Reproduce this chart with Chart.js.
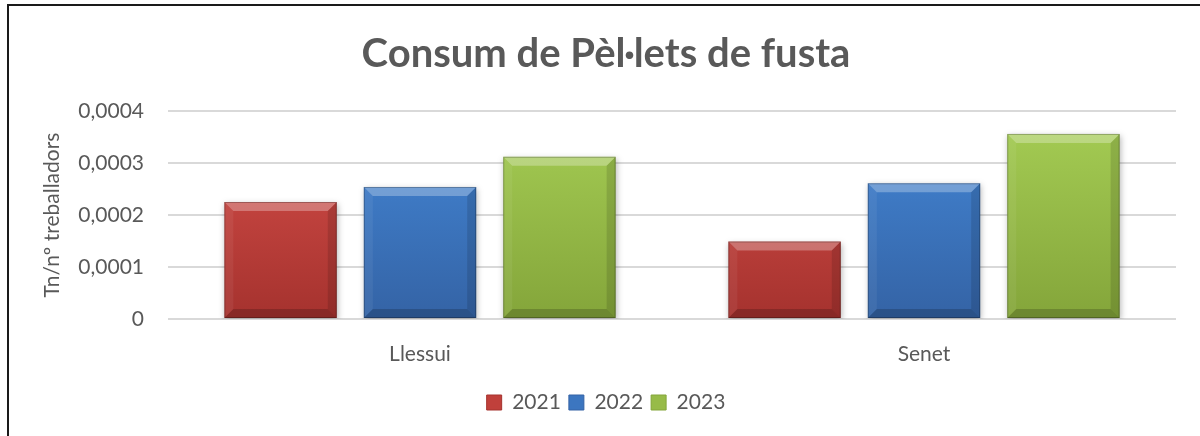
<!DOCTYPE html>
<html>
<head>
<meta charset="utf-8">
<script src="https://cdn.jsdelivr.net/npm/chart.js@4.4.1/dist/chart.umd.min.js"></script>
<style>
  html, body { margin: 0; padding: 0; background: #fff; overflow: hidden; }
  #wrap { position: relative; width: 1200px; height: 436px; }
  #frame { position: absolute; left: 7px; top: 4px; width: 1400px; height: 800px; border: 2px solid #1a1a1a; box-sizing: border-box; pointer-events: none; }
  canvas { position: absolute; left: 0; top: 0; }
</style>
</head>
<body>
<div id="wrap">
  <canvas id="c" width="1200" height="436"></canvas>
  <div id="frame"></div>
</div>
<script>
const categories = ['Llessui', 'Senet'];
const seriesNames = ['2021', '2022', '2023'];
const values2021 = [0.000225, 0.000149];
const values2022 = [0.000254, 0.000261];
const values2023 = [0.000312, 0.000356];
const yTickValues = [0, 0.0001, 0.0002, 0.0003, 0.0004];
const chartTitle = 'Consum de Pèl·lets de fusta';
const yAxisTitle = 'Tn/nº treballadors';

const palette = [
  { top: '#D8504B', bottom: '#A5322E', solid: '#C0403B' },
  { top: '#4488D8', bottom: '#3463A5', solid: '#3C76C0' },
  { top: '#A6CE55', bottom: '#84A53A', solid: '#97BB48' }
];

function gradFor(i) {
  return function(ctx) {
    const chart = ctx.chart;
    const area = chart.chartArea;
    if (!area) return palette[i].solid;
    const g = chart.ctx.createLinearGradient(0, area.top, 0, area.bottom);
    g.addColorStop(0, palette[i].top);
    g.addColorStop(1, palette[i].bottom);
    return g;
  };
}

const bevelPlugin = {
  id: 'bevel',
  beforeDatasetsDraw(chart) {
    const ctx = chart.ctx;
    ctx.save();
    ctx.shadowColor = 'rgba(0,0,0,0.28)';
    ctx.shadowBlur = 6;
    ctx.shadowOffsetX = 1;
    ctx.shadowOffsetY = 2;
  },
  afterDatasetsDraw(chart) {
    const ctx = chart.ctx;
    ctx.restore();
    chart.data.datasets.forEach((ds, di) => {
      const meta = chart.getDatasetMeta(di);
      meta.data.forEach(el => {
        const p = el.getProps(['x', 'y', 'base', 'width'], true);
        const l = p.x - p.width / 2, r = p.x + p.width / 2;
        const t = Math.min(p.y, p.base), b = Math.max(p.y, p.base);
        const bv = Math.min(9, (b - t) / 4);
        const poly = (pts, fill) => {
          ctx.beginPath();
          ctx.moveTo(pts[0][0], pts[0][1]);
          for (let k = 1; k < pts.length; k++) ctx.lineTo(pts[k][0], pts[k][1]);
          ctx.closePath();
          ctx.fillStyle = fill;
          ctx.fill();
        };
        ctx.save();
        poly([[l, t], [r, t], [r - bv, t + bv], [l + bv, t + bv]], 'rgba(255,255,255,0.28)');
        poly([[l, t], [l + bv, t + bv], [l + bv, b - bv], [l, b]], 'rgba(255,255,255,0.06)');
        poly([[r, t], [r, b], [r - bv, b - bv], [r - bv, t + bv]], 'rgba(0,0,0,0.12)');
        poly([[l, b], [l + bv, b - bv], [r - bv, b - bv], [r, b]], 'rgba(0,0,0,0.18)');
        ctx.strokeStyle = 'rgba(0,0,0,0.25)';
        ctx.lineWidth = 1;
        ctx.strokeRect(l + 0.5, t + 0.5, p.width - 1, b - t - 1);
        ctx.restore();
      });
    });
  }
};

const datasets = [values2021, values2022, values2023].map((vals, i) => ({
  label: seriesNames[i],
  data: vals,
  backgroundColor: gradFor(i),
  borderWidth: 0,
  categoryPercentage: 0.83,
  barPercentage: 0.806
}));

const textColor = '#595959';
const fam = 'Lato, "Open Sans", sans-serif';

new Chart(document.getElementById('c'), {
  type: 'bar',
  data: { labels: categories, datasets },
  plugins: [bevelPlugin],
  options: {
    responsive: false,
    animation: false,
    layout: { padding: { left: 36, right: 24, top: 5, bottom: 13 } },
    plugins: {
      title: {
        display: true,
        text: chartTitle,
        color: textColor,
        font: { family: fam, size: 40, weight: 'bold' },
        padding: { top: 25, bottom: 33 }
      },
      legend: {
        position: 'bottom',
        labels: {
          color: textColor,
          font: { family: fam, size: 21 },
          boxWidth: 15,
          boxHeight: 15,
          padding: 8,
          generateLabels(chart) {
            return chart.data.datasets.map((ds, i) => ({
              text: ds.label,
              fillStyle: palette[i].solid,
              strokeStyle: palette[i].bottom,
              lineWidth: 1,
              fontColor: textColor,
              datasetIndex: i,
              hidden: false
            }));
          }
        }
      },
      tooltip: { enabled: false }
    },
    scales: {
      x: {
        afterFit(scale) { scale.height = 65; },
        grid: { display: false, drawTicks: false },
        border: { display: false },
        ticks: { color: textColor, font: { family: fam, size: 21 }, padding: 23 }
      },
      y: {
        min: 0,
        max: 0.0004,
        afterFit(scale) { scale.width = 132; },
        afterBuildTicks(scale) { scale.ticks = yTickValues.map(v => ({ value: v })); },
        grid: { color: '#D9D9D9', lineWidth: 2, drawTicks: false },
        border: { display: false },
        ticks: {
          color: textColor,
          font: { family: fam, size: 21 },
          padding: 24,
          callback(v) { return v === 0 ? '0' : Number(v).toFixed(4).replace('.', ','); }
        },
        title: {
          display: true,
          text: yAxisTitle,
          color: textColor,
          font: { family: fam, size: 21 },
          padding: { top: 4, bottom: 4 }
        }
      }
    }
  }
});
</script>
</body>
</html>
